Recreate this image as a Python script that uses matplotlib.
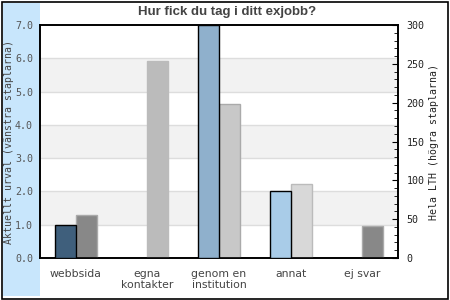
import matplotlib
matplotlib.use("Agg")
import matplotlib.pyplot as plt
from matplotlib.patches import Rectangle
from matplotlib.ticker import MultipleLocator
import numpy as np

categories = ["webbsida", "egna\nkontakter", "genom en\ninstitution", "annat", "ej svar"]
left_values = [1.0, 0.0, 7.0, 2.0, 0.0]
right_values = [55, 254, 198, 95, 41]
left_colors = ["#3f5f7c", "#3f5f7c", "#8fb0cc", "#a9cce8", "#a9cce8"]
right_colors = ["#888888", "#bbbbbb", "#c8c8c8", "#d8d8d8", "#888888"]
right_edges = ["#aaaaaa", "#bbbbbb", "#aaaaaa", "#bbbbbb", "#aaaaaa"]
title = "Hur fick du tag i ditt exjobb?"
left_label = "Aktuellt urval (vänstra staplarna)"
right_label = "Hela LTH (högra staplarna)"

fig = plt.figure(figsize=(4.5, 3), dpi=100)
fig.patch.set_facecolor("white")
fig.add_artist(Rectangle((3/450, 4/300), 37/450, 293/300, transform=fig.transFigure,
                         facecolor="#c8e6fc", edgecolor="none", zorder=0))
fig.add_artist(Rectangle((1.5/450, 1.5/300), 446/450, 296.5/300, transform=fig.transFigure,
                         facecolor="none", edgecolor="black", lw=1.2, zorder=5))

ax = fig.add_axes([40/450, 42/300, 358/450, 233/300])
ax2 = ax.twinx()
ax.set_zorder(ax2.get_zorder() + 1)
ax.patch.set_visible(False)
ax2.patch.set_facecolor("white")

x = np.arange(len(categories))
w = 0.293
ax.set_xlim(-0.5, len(categories) - 0.5)
ax.set_ylim(0, 7)
ax2.set_ylim(0, 300)

for lo in (1, 3, 5):
    ax2.axhspan(lo * 300 / 7, (lo + 1) * 300 / 7, color="#f2f2f2", zorder=0, lw=0)
for v in range(1, 7):
    ax2.axhline(v * 300 / 7, color="#dddddd", lw=1, zorder=0.5)

for i in range(len(categories)):
    if left_values[i] > 0:
        ax.bar(x[i] - w / 2, left_values[i], width=w, color=left_colors[i],
               edgecolor="black", lw=1, zorder=3)
    ax.bar(x[i] + w / 2, right_values[i] * 7 / 300, width=w, color=right_colors[i],
           edgecolor=right_edges[i], lw=1, zorder=2)

ax.set_yticks(np.arange(0, 8, 1))
ax.set_yticklabels([f"{v:.1f}" for v in range(8)], family="DejaVu Sans Mono",
                   fontsize=7.2, color="#555555")
ax.tick_params(axis="y", length=0, pad=5)
ax.set_xticks(x)
ax.set_xticklabels(categories, fontsize=7.8, color="#444444", linespacing=1.1)
ax.tick_params(axis="x", length=0, pad=8)

ax2.set_yticks(np.arange(0, 301, 50))
ax2.yaxis.set_minor_locator(MultipleLocator(10))
ax2.tick_params(axis="y", which="major", direction="in", length=4, labelsize=7.2,
                labelcolor="#222222", pad=6)
ax2.tick_params(axis="y", which="minor", direction="in", length=3)
for lab in ax2.get_yticklabels():
    lab.set_family("DejaVu Sans Mono")

for a in (ax, ax2):
    for s in a.spines.values():
        s.set_color("black")
        s.set_linewidth(1.2)

fig.text(9.5/450, 1 - 142/300, left_label, rotation=90, ha="center", va="center",
         family="DejaVu Sans Mono", fontsize=7.1, color="#444444")
fig.text(434/450, 1 - 142/300, right_label, rotation=90, ha="center", va="center",
         family="DejaVu Sans Mono", fontsize=7.1, color="#222222")
fig.text(227/450, 1 - 12/300, title, ha="center", va="center",
         family="Liberation Sans", fontweight="bold", fontsize=9.5, color="#444444")

fig.savefig("out.png", dpi=100)
